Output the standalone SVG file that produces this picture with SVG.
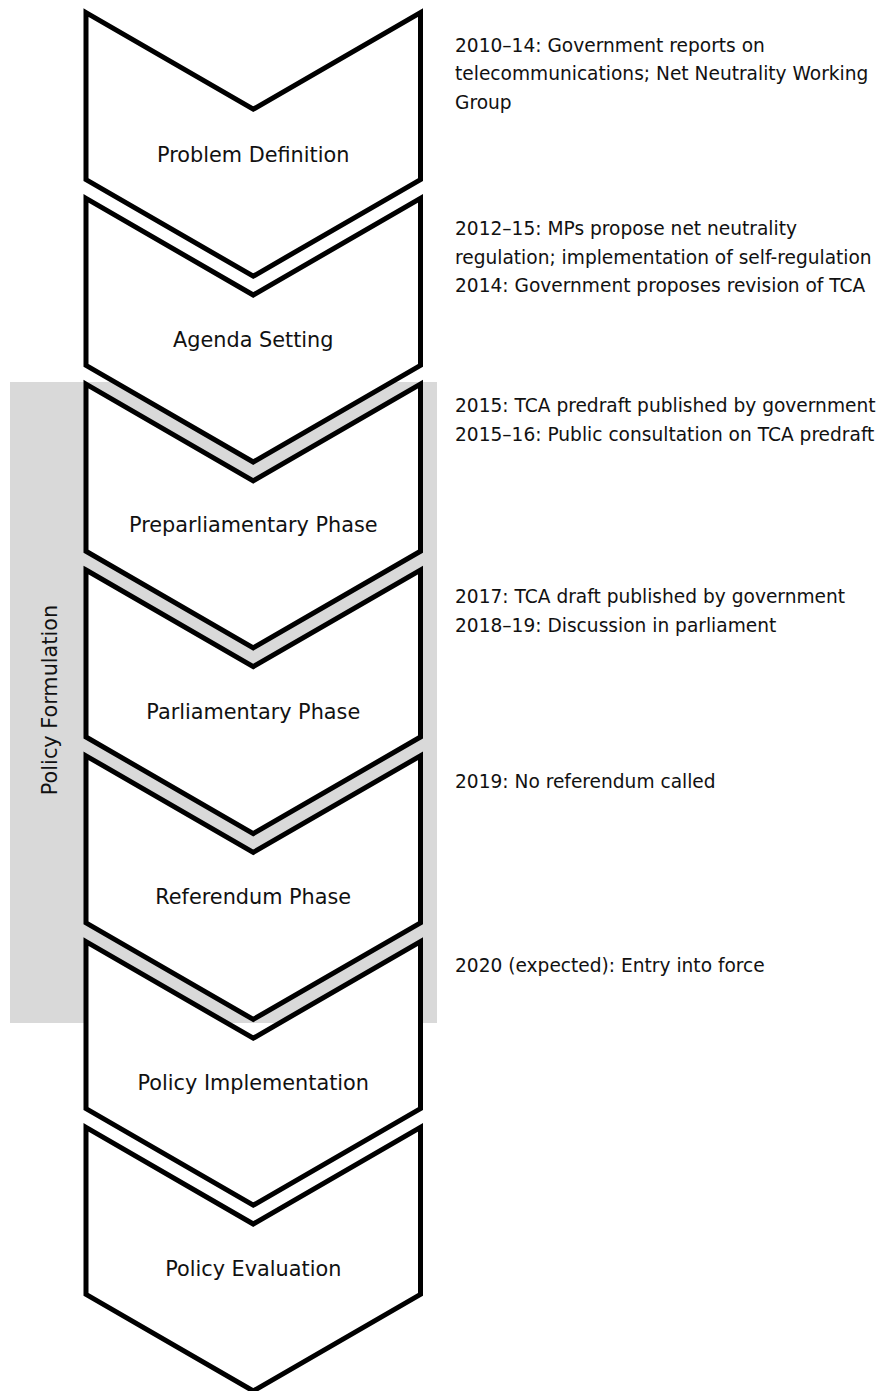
<svg xmlns="http://www.w3.org/2000/svg" width="889" height="1391" viewBox="0 0 889 1391">
<style>
.chev{fill:#fff;stroke:#000;stroke-width:5;stroke-linejoin:miter;stroke-miterlimit:10}
.lbl{font-family:"DejaVu Sans",Verdana,sans-serif;font-size:20.8px;fill:#111;text-anchor:middle}
.note{font-family:"DejaVu Sans",Verdana,sans-serif;font-size:18.6px;fill:#111}
</style>
<defs>
<polygon id="chevron" class="chev" points="86,0 253.25,96.6 420.5,0 420.5,167 253.25,263.6 86,167"/>
</defs>
<rect id="policy-formulation-band" x="10" y="382" width="427" height="641" fill="#d9d9d9"/>
<text class="lbl" transform="translate(56.5,700) rotate(-90)">Policy Formulation</text>
<g id="problem-definition" transform="translate(0,12.6)">
<use href="#chevron"/>
<text class="lbl" x="253.25" y="149">Problem Definition</text>
</g>
<g id="agenda-setting" transform="translate(0,198.4)">
<use href="#chevron"/>
<text class="lbl" x="253.25" y="148.5">Agenda Setting</text>
</g>
<g id="preparliamentary-phase" transform="translate(0,384.2)">
<use href="#chevron"/>
<text class="lbl" x="253.25" y="148">Preparliamentary Phase</text>
</g>
<g id="parliamentary-phase" transform="translate(0,570)">
<use href="#chevron"/>
<text class="lbl" x="253.25" y="148.5">Parliamentary Phase</text>
</g>
<g id="referendum-phase" transform="translate(0,755.8)">
<use href="#chevron"/>
<text class="lbl" x="253.25" y="148.5">Referendum Phase</text>
</g>
<g id="policy-implementation" transform="translate(0,941.6)">
<use href="#chevron"/>
<text class="lbl" x="253.25" y="148.5">Policy Implementation</text>
</g>
<g id="policy-evaluation" transform="translate(0,1127.4)">
<use href="#chevron"/>
<text class="lbl" x="253.25" y="148.5">Policy Evaluation</text>
</g>
<g id="connectors"></g>
<g id="notes" class="note">
<text x="455" y="51.5">2010–14: Government reports on</text>
<text x="455" y="80">telecommunications; Net Neutrality Working</text>
<text x="455" y="108.5">Group</text>
<text x="455" y="235">2012–15: MPs propose net neutrality</text>
<text x="455" y="263.5">regulation; implementation of self-regulation</text>
<text x="455" y="292">2014: Government proposes revision of TCA</text>
<text x="455" y="412">2015: TCA predraft published by government</text>
<text x="455" y="440.5">2015–16: Public consultation on TCA predraft</text>
<text x="455" y="603">2017: TCA draft published by government</text>
<text x="455" y="631.5">2018–19: Discussion in parliament</text>
<text x="455" y="788">2019: No referendum called</text>
<text x="455" y="972">2020 (expected): Entry into force</text>
</g>
</svg>
